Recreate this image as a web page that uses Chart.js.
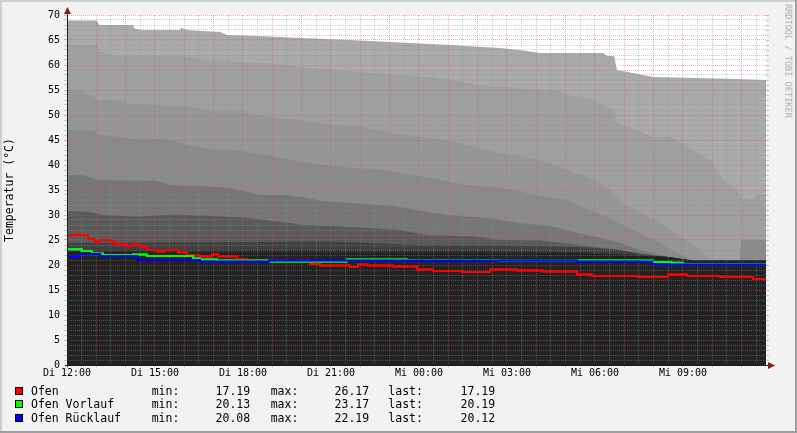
<!DOCTYPE html>
<html>
<head>
<meta charset="utf-8">
<script src="https://cdn.jsdelivr.net/npm/chart.js@4.4.1/dist/chart.umd.min.js"></script>
<style>
html, body { margin: 0; padding: 0; background: #f2f2f2; }
#wrap { position: relative; width: 797px; height: 433px; overflow: hidden; font-family: "DejaVu Sans Mono", monospace; color: #000; }
#wrap canvas { position: absolute; left: 0; top: 0; }
.t { position: absolute; font-size: 11.5px; line-height: 11.5px; white-space: pre; }
.box { position: absolute; width: 6px; height: 6px; border: 1px solid #000; }
.rot { position: absolute; white-space: pre; line-height: 1; }
</style>
</head>
<body>
<div id="wrap">
  <canvas id="chart" width="797" height="433"></canvas>
  <div class="rot" style="left:10px;top:190px;font-size:11.5px;transform:translate(-50%,-50%) rotate(-90deg)">Temperatur (°C)</div>
  <div class="rot" style="left:788px;top:61px;font-size:8.6px;color:#aaa;transform:translate(-50%,-50%) rotate(90deg)">RRDTOOL / TOBI OETIKER</div>
  <div id="legend"></div>
</div>
<script>
// hours since Di 12:00, value in °C
const ofen = [[0,26.0],[0.34,26.2],[0.44,26.0],[0.72,25.2],[0.95,24.7],[1.13,25.0],[1.47,24.7],[1.64,24.1],[2.05,23.8],[2.22,24.1],[2.49,23.7],[2.73,23.0],[3.10,22.7],[3.34,23.0],[3.78,22.5],[4.09,21.9],[4.53,21.7],[4.94,22.1],[5.15,21.7],[5.80,21.1],[6.14,20.9],[8.28,20.2],[8.63,19.9],[9.65,19.6],[9.92,20.1],[10.26,19.9],[11.11,19.7],[11.93,19.1],[12.48,18.8],[13.47,18.6],[14.42,19.1],[15.34,18.9],[16.23,18.7],[17.39,18.1],[17.90,17.8],[19.43,17.6],[20.49,18.1],[21.14,17.8],[22.26,17.6],[23.39,17.19],[23.83,17.19]];
const vorlauf = [[0,23.17],[0.5,22.8],[0.85,22.3],[1.23,22.0],[2.25,22.1],[2.73,21.8],[4.3,21.3],[4.53,21.1],[5.11,20.9],[6.89,20.7],[9.54,21.1],[11.59,21.0],[14.7,20.9],[19.95,20.6],[20.6,20.45],[21.0,20.2],[23.83,20.19]];
const ruecklauf = [[0,21.7],[0.44,22.19],[1.13,21.8],[2.39,21.0],[4.53,20.7],[6.89,20.9],[17.39,20.7],[19.95,20.1],[22.5,20.08],[23.5,20.12],[23.83,20.12]];

// buffer layers, top to bottom
const layerA = [[0,68.9],[1.02,68.9],[1.1,68.0],[2.25,68.0],[2.3,67.3],[2.55,67.0],[3.85,67.0],[3.9,67.4],[4.09,67.0],[5.22,66.6],[5.45,66.0],[6.5,65.8],[8.0,65.4],[9.65,65.0],[11.35,64.5],[13.06,64.0],[14.76,63.4],[15.44,63.0],[16.13,62.4],[18.27,62.4],[18.41,61.8],[18.65,61.8],[18.75,59.0],[19.98,57.6],[22.84,57.2],[23.83,57.0]];
const layerB = [[0,64.0],[0.95,64.0],[0.98,64.2],[1.02,64.2],[1.1,62.8],[1.45,62.1],[1.75,61.8],[4.0,61.8],[4.6,61.0],[6.7,60.4],[7.94,59.6],[9.65,58.8],[11.35,58.0],[13.06,57.2],[13.98,56.0],[14.76,55.7],[15.9,55.0],[16.57,55.0],[17.15,54.0],[17.93,53.0],[18.41,51.7],[18.65,51.0],[18.75,48.4],[19.43,47.0],[19.98,45.6],[20.56,45.6],[21.14,43.6],[21.92,41.0],[22.2,38.5],[22.37,37.0],[22.84,35.0],[22.94,33.6],[23.39,33.0],[23.5,34.0],[23.83,34.0]];
const layerC = [[0,55.0],[0.45,55.0],[0.6,54.6],[1.1,53.0],[1.9,52.8],[2.05,52.2],[3.0,52.0],[4.2,51.6],[4.9,50.8],[6.0,50.8],[6.35,50.0],[7.94,49.0],[8.96,48.1],[10.0,47.7],[10.57,47.0],[11.25,46.2],[11.93,45.7],[12.96,45.0],[13.64,44.0],[14.32,43.0],[15.0,42.0],[15.44,41.8],[16.13,41.0],[16.91,39.4],[17.83,37.4],[18.41,35.6],[18.96,32.4],[19.54,30.4],[20.22,28.4],[20.9,25.6],[21.48,23.6],[21.82,21.6],[22.0,21.0],[22.93,21.0],[23.0,25.0],[23.83,25.0]];
const layerD = [[0,46.9],[0.55,47.0],[0.95,46.8],[1.02,46.0],[1.57,45.8],[2.49,45.0],[3.17,45.2],[3.6,44.8],[4.09,44.1],[4.88,43.1],[5.56,43.1],[6.58,42.2],[7.7,41.0],[8.63,40.0],[9.99,39.3],[10.5,39.2],[11.8,38.0],[12.72,37.0],[13.64,36.0],[14.32,35.7],[15.34,35.0],[15.89,34.0],[17.05,33.0],[17.83,31.0],[18.41,29.6],[19.09,27.6],[19.54,26.4],[20.22,24.4],[20.8,22.4],[21.3,21.0],[22.93,21.0],[23.0,25.0],[23.83,25.0]];
const layerE = [[0,38.0],[0.55,38.0],[0.68,37.8],[1.02,37.0],[3.0,36.9],[3.51,36.0],[4.53,35.8],[5.56,35.4],[6.58,34.0],[7.5,34.0],[7.94,33.6],[8.63,32.9],[9.99,32.2],[11.01,31.9],[11.93,31.0],[12.96,30.0],[14.32,29.4],[15.44,28.4],[16.47,27.8],[17.25,26.6],[18.07,25.6],[18.85,24.4],[19.54,23.0],[20.22,22.0],[20.8,21.3],[21.3,21.0],[23.83,21.0]];
const layerF = [[0,30.8],[0.8,30.6],[1.2,30.0],[2.4,29.7],[3.6,30.1],[4.5,29.9],[6.0,29.5],[7.6,28.4],[8.0,28.0],[9.0,27.8],[10.5,27.3],[11.35,27.0],[12.27,26.0],[13.9,25.7],[14.76,25.0],[16.13,24.9],[17.49,24.0],[18.85,23.0],[19.54,22.0],[20.5,21.5],[21.3,21.0],[23.83,21.0]];
const layerG = [[0,24.4],[3,24.5],[6,24.6],[9,24.7],[12,24.0],[15,23.9],[17.5,23.6],[18.8,23.0],[19.6,22.2],[20.5,21.6],[21.2,21.0],[23.83,21.0]];
const layerH = [[0,23.0],[8,23.0],[14,22.8],[17.5,22.6],[19,22.2],[20.5,21.6],[21.2,21.0],[23.83,21.0]];
const layerI = [[0,22.6],[17.5,22.4],[18.75,22.0],[20.5,21.6],[21.14,21.0],[23.83,21.0]];

const timeLabels = ['Di 12:00', 'Di 15:00', 'Di 18:00', 'Di 21:00', 'Mi 00:00', 'Mi 03:00', 'Mi 06:00', 'Mi 09:00'];
const legendNames = ['Ofen', 'Ofen Vorlauf', 'Ofen Rücklauf'];
const legendMin = [17.19, 20.13, 20.08];
const legendMax = [26.17, 23.17, 22.19];
const legendLast = [17.19, 20.19, 20.12];

const layers = [layerA, layerB, layerC, layerD, layerE, layerF, layerG, layerH, layerI];
const layerColors = ['#aaaaaa', '#a0a0a0', '#969696', '#8a8a8a', '#767676', '#5a5a5a', '#404040', '#303030', '#222222'];
const lineColors = ['#ff0000', '#00ff00', '#0000ff'];

const GRID = 'rgba(143,143,143,0.42)';
const MGRID = 'rgba(222,79,79,0.45)';

const toPts = arr => arr.map(([x, y]) => ({x, y}));

const lineSets = [ofen, vorlauf, ruecklauf].map((arr, i) => ({
    data: toPts(arr),
    borderColor: lineColors[i],
    borderWidth: 2,
    stepped: true,
    fill: false,
    pointRadius: 0,
    order: 2 - i
}));

const areaSets = layers.map((arr, i) => ({
    data: toPts(arr),
    backgroundColor: layerColors[i],
    borderColor: 'transparent',
    borderWidth: 0,
    fill: 'origin',
    pointRadius: 0,
    tension: 0,
    order: 20 - i
}));

const rrdFrame = {
    id: 'rrdFrame',
    beforeDraw(chart) {
        const {ctx, chartArea: a, width, height} = chart;
        ctx.save();
        ctx.fillStyle = '#f2f2f2';
        ctx.fillRect(0, 0, width, height);
        ctx.fillStyle = '#ffffff';
        ctx.fillRect(a.left, a.top, a.right - a.left, a.bottom - a.top);
        ctx.fillStyle = '#cfcfcf';
        ctx.fillRect(0, 0, width, 2);
        ctx.fillRect(0, 0, 2, height);
        ctx.fillStyle = '#9e9e9e';
        ctx.fillRect(0, height - 2, width, 2);
        ctx.fillRect(width - 2, 0, 2, height);
        ctx.restore();
    },
    afterDraw(chart) {
        const {ctx, chartArea: a} = chart;
        // lines go above the grid
        ctx.save();
        ctx.beginPath();
        ctx.rect(a.left, a.top - 2, a.right - a.left, a.bottom - a.top + 4);
        ctx.clip();
        for (let i = 0; i < 3; i++) {
            chart.getDatasetMeta(i).dataset.draw(ctx, a);
        }
        ctx.restore();

        ctx.save();
        // ticks on the right edge
        const ys = chart.scales.y;
        ys.ticks.forEach(t => {
            const py = Math.round(ys.getPixelForValue(t.value)) + 0.5;
            ctx.strokeStyle = t.value % 5 === 0 ? MGRID : GRID;
            ctx.beginPath();
            ctx.moveTo(a.right, py);
            ctx.lineTo(a.right + 3, py);
            ctx.stroke();
        });
        // axes
        ctx.strokeStyle = '#1f1f1f';
        ctx.lineWidth = 1;
        ctx.beginPath();
        ctx.moveTo(a.left + 0.5, a.bottom + 2);
        ctx.lineTo(a.left + 0.5, a.top - 3);
        ctx.moveTo(a.left - 2, a.bottom + 0.5);
        ctx.lineTo(a.right + 3, a.bottom + 0.5);
        ctx.stroke();
        // arrows
        ctx.fillStyle = '#801f1f';
        ctx.beginPath();
        ctx.moveTo(a.left + 0.5, a.top - 8);
        ctx.lineTo(a.left - 3, a.top - 1);
        ctx.lineTo(a.left + 4, a.top - 1);
        ctx.closePath();
        ctx.fill();
        ctx.beginPath();
        ctx.moveTo(a.right + 9, a.bottom + 0.5);
        ctx.lineTo(a.right + 2, a.bottom - 3);
        ctx.lineTo(a.right + 2, a.bottom + 4);
        ctx.closePath();
        ctx.fill();
        ctx.restore();
    }
};

const tickFont = {family: 'DejaVu Sans Mono', size: 10};

new Chart(document.getElementById('chart'), {
    type: 'line',
    data: {datasets: lineSets.concat(areaSets)},
    options: {
        responsive: false,
        animation: false,
        devicePixelRatio: 1,
        events: [],
        layout: {padding: {top: 15, right: 31, left: 0, bottom: 0}},
        plugins: {legend: {display: false}, tooltip: {enabled: false}},
        scales: {
            x: {
                type: 'linear',
                min: 0,
                max: 23.83,
                afterBuildTicks: s => {
                    s.ticks = [];
                    for (let v = 0; v <= 23.5; v += 0.5) s.ticks.push({value: v});
                },
                afterFit: s => { s.height = 68; },
                grid: {
                    z: 1,
                    lineWidth: 1,
                    color: c => Number.isInteger(c.tick.value) ? MGRID : GRID,
                    tickColor: c => Number.isInteger(c.tick.value) ? MGRID : GRID,
                    tickLength: 2
                },
                border: {display: false, dash: [1, 1]},
                ticks: {
                    autoSkip: false,
                    maxRotation: 0,
                    minRotation: 0,
                    padding: 0,
                    color: '#000',
                    font: tickFont,
                    callback: v => v % 3 === 0 ? timeLabels[v / 3] : ''
                }
            },
            y: {
                type: 'linear',
                min: 0,
                max: 70,
                afterBuildTicks: s => {
                    s.ticks = [];
                    for (let v = 0; v <= 70; v++) s.ticks.push({value: v});
                },
                afterFit: s => { s.width = 67; },
                grid: {
                    z: 1,
                    lineWidth: 1,
                    color: c => c.tick.value % 5 === 0 ? MGRID : GRID,
                    tickColor: c => c.tick.value % 5 === 0 ? MGRID : GRID,
                    tickLength: 3
                },
                border: {display: false, dash: [1, 1]},
                ticks: {
                    autoSkip: false,
                    padding: 4,
                    color: '#000',
                    font: tickFont,
                    callback: v => v % 5 === 0 ? String(v) : ''
                }
            }
        }
    },
    plugins: [rrdFrame]
});

// legend below the graph
const legend = document.getElementById('legend');
const rowTop = [385.6, 399.4, 413.2];
let html = '';
legendNames.forEach((name, i) => {
    const top = rowTop[i];
    html += `<div class="box" style="left:15px;top:${top + 1}px;background:${lineColors[i]}"></div>`;
    html += `<div class="t" style="left:31px;top:${top}px">${name}</div>`;
    html += `<div class="t" style="left:151.7px;top:${top}px">min:</div>`;
    html += `<div class="t" style="right:${797 - 250.2}px;top:${top}px">${legendMin[i].toFixed(2)}</div>`;
    html += `<div class="t" style="left:270.7px;top:${top}px">max:</div>`;
    html += `<div class="t" style="right:${797 - 369.2}px;top:${top}px">${legendMax[i].toFixed(2)}</div>`;
    html += `<div class="t" style="left:388.3px;top:${top}px">last:</div>`;
    html += `<div class="t" style="right:${797 - 495.2}px;top:${top}px">${legendLast[i].toFixed(2)}</div>`;
});
legend.innerHTML = html;
</script>
</body>
</html>
